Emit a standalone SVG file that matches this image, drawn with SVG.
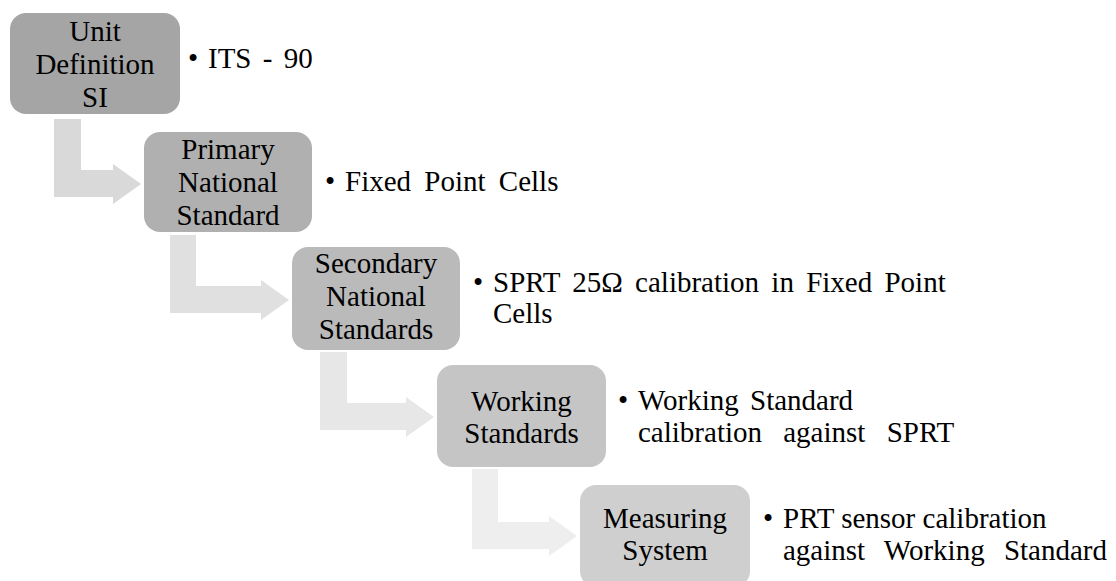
<svg xmlns="http://www.w3.org/2000/svg" width="1116" height="581" viewBox="0 0 1116 581">
<style>
.lbl{font-family:"Liberation Serif","Times New Roman",serif;font-size:29px;fill:#000;text-anchor:middle}
.txt{font-family:"Liberation Serif","Times New Roman",serif;font-size:29px;fill:#000}
</style>
<rect width="1116" height="581" fill="#ffffff"/>
<g id="connectors">
<path d="M54 119 H81 V170 H113 V164 L141 184 L113 204 V197 H54 Z" fill="#d9d9d9"/>
<path d="M170 235 H196 V286 H261 V280 L289 300 L261 320 V313 H170 Z" fill="#e0e0e0"/>
<path d="M320 352 H347 V403 H406 V397 L434 417 L406 437 V430 H320 Z" fill="#e7e7e7"/>
<path d="M472 469 H498 V522 H549 V516 L577 536 L549 556 V549 H472 Z" fill="#eeeeee"/>
</g>
<g id="node1">
<rect x="10" y="13" width="170" height="101" rx="16" fill="#a5a5a5"/>
<text class="lbl" x="95" y="41">Unit</text>
<text class="lbl" x="95" y="74">Definition</text>
<text class="lbl" x="95" y="107">SI</text>
<text class="txt" x="188" y="68">•</text>
<text class="txt" x="208" y="68" word-spacing="4">ITS - 90</text>
</g>
<g id="node2">
<rect x="144" y="132" width="168" height="100" rx="16" fill="#b0b0b0"/>
<text class="lbl" x="228" y="159">Primary</text>
<text class="lbl" x="228" y="192">National</text>
<text class="lbl" x="228" y="225">Standard</text>
<text class="txt" x="325" y="191">•</text>
<text class="txt" x="345" y="191" word-spacing="6">Fixed Point Cells</text>
</g>
<g id="node3">
<rect x="292" y="247" width="168" height="103" rx="16" fill="#bababa"/>
<text class="lbl" x="376" y="273">Secondary</text>
<text class="lbl" x="376" y="306">National</text>
<text class="lbl" x="376" y="339">Standards</text>
<text class="txt" x="473" y="292">•</text>
<text class="txt" x="493" y="292" word-spacing="5">SPRT 25Ω calibration  in Fixed Point</text>
<text class="txt" x="493" y="323">Cells</text>
</g>
<g id="node4">
<rect x="437" y="365" width="169" height="102" rx="16" fill="#c5c5c5"/>
<text class="lbl" x="521.5" y="411">Working</text>
<text class="lbl" x="521.5" y="443">Standards</text>
<text class="txt" x="618" y="410">•</text>
<text class="txt" x="638" y="410" word-spacing="4">Working Standard</text>
<text class="txt" x="638" y="442" word-spacing="14">calibration against SPRT</text>
</g>
<g id="node5">
<rect x="580" y="485" width="170" height="102" rx="16" fill="#cfcfcf"/>
<text class="lbl" x="665" y="528">Measuring</text>
<text class="lbl" x="665" y="560">System</text>
<text class="txt" x="763" y="528">•</text>
<text class="txt" x="783" y="528">PRT sensor calibration</text>
<text class="txt" x="783" y="560" word-spacing="12">against Working Standard</text>
</g>
</svg>
